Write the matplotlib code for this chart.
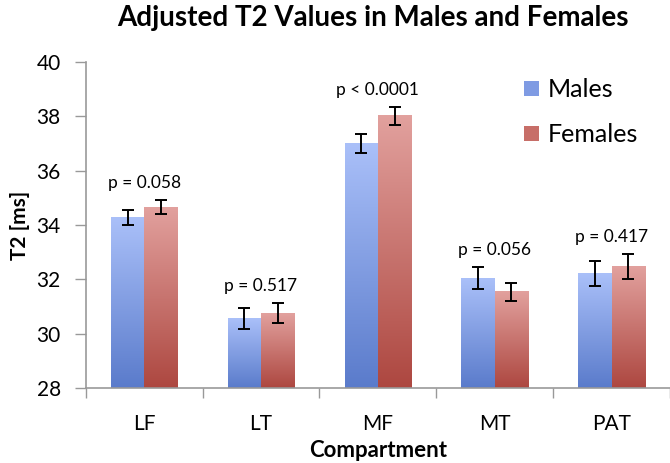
import numpy as np
import matplotlib
matplotlib.use("Agg")
import matplotlib.pyplot as plt
from matplotlib.colors import LinearSegmentedColormap
from matplotlib.patches import Patch

categories = ["LF", "LT", "MF", "MT", "PAT"]
males = [34.28, 30.57, 37.0, 32.04, 32.2]
males_err = [0.28, 0.39, 0.35, 0.40, 0.46]
females = [34.65, 30.75, 38.02, 31.55, 32.47]
females_err = [0.26, 0.37, 0.32, 0.33, 0.47]
pvals = ["p = 0.058", "p = 0.517", "p < 0.0001", "p = 0.056", "p = 0.417"]
yticks = [28, 30, 32, 34, 36, 38, 40]

plt.rcParams['font.family'] = ['Lato', 'DejaVu Sans']

fig = plt.figure(figsize=(6.7, 4.63), dpi=100)
ax = fig.add_axes([0.128, 0.162, 0.872, 0.704])

x = np.arange(len(categories))
w = 0.285
blue_cmap = LinearSegmentedColormap.from_list("b", ["#5a7bcb", "#aac0f9"])
red_cmap = LinearSegmentedColormap.from_list("r", ["#ad4740", "#e2a19e"])

ymin, ymax = 28, 40
bm = ax.bar(x - w / 2, np.array(males) - ymin, w, bottom=ymin, color="none", label="Males")
bf = ax.bar(x + w / 2, np.array(females) - ymin, w, bottom=ymin, color="none", label="Females")

grad = np.linspace(0, 1, 256).reshape(-1, 1)
for bars, cmap in ((bm, blue_cmap), (bf, red_cmap)):
    for b in bars:
        x0, y0 = b.get_x(), b.get_y()
        ax.imshow(grad, cmap=cmap, origin="lower", aspect="auto",
                  extent=(x0, x0 + b.get_width(), y0, y0 + b.get_height()), zorder=1)

ax.errorbar(x - w / 2, males, yerr=males_err, fmt="none", ecolor="black", elinewidth=1.4, capsize=4, capthick=1.4, zorder=3)
ax.errorbar(x + w / 2, females, yerr=females_err, fmt="none", ecolor="black", elinewidth=1.4, capsize=4, capthick=1.4, zorder=3)

for i in range(len(categories)):
    top = max(males[i] + males_err[i], females[i] + females_err[i])
    ax.text(x[i], top + 0.33, pvals[i], ha="center", va="bottom", fontsize=12.5)

ax.set_xlim(-0.5, len(categories) - 0.5)
ax.set_ylim(ymin, ymax)
ax.set_yticks(yticks)
ax.set_yticklabels([str(t) for t in yticks], fontsize=15)
ax.set_xticks(x)
ax.set_xticklabels(categories, fontsize=15)
ax.tick_params(axis="x", length=0, pad=19)
ax.set_xticks(np.arange(len(categories) + 1) - 0.5, minor=True)
ax.tick_params(axis="x", which="minor", length=7, color="#999999", width=1)
ax.tick_params(axis="y", length=8, color="#999999", width=1, pad=10)

for s in ("top", "right"):
    ax.spines[s].set_visible(False)
for s in ("left", "bottom"):
    ax.spines[s].set_color("#999999")
    ax.spines[s].set_linewidth(1.2)

ax.set_ylabel("T2 [ms]", fontsize=15, fontweight="bold")
ax.yaxis.set_label_coords(-0.095, 0.5)
ax.set_xlabel("Compartment", fontsize=16, fontweight="bold", labelpad=4)
fig.suptitle("Adjusted T2 Values in Males and Females", fontsize=20, fontweight="bold", x=0.556, y=0.99)

handles = [Patch(facecolor="#7f9be3"), Patch(facecolor="#c76e68")]
ax.legend(handles, ["Males", "Females"], loc="upper left", bbox_to_anchor=(0.75, 0.95),
          frameon=False, fontsize=18, handlelength=0.6, handleheight=0.6,
          labelspacing=0.88, handletextpad=0.35, borderpad=0, borderaxespad=0)

fig.savefig("out.png", dpi=100)
